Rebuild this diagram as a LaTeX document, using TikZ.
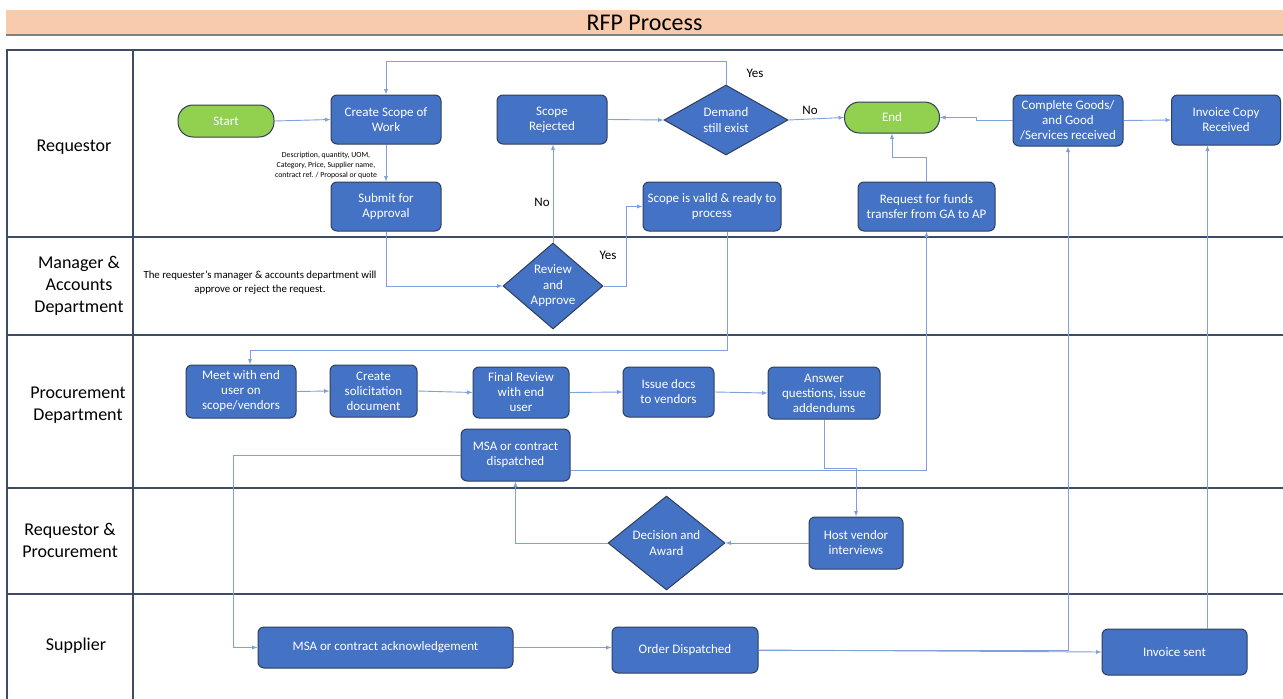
\documentclass[tikz,border=0pt]{standalone}
\usepackage{fontspec}
\setmainfont{Carlito}
\usetikzlibrary{shapes,arrows,calc}

\definecolor{boxblue}{HTML}{4472C4}
\definecolor{boxedge}{HTML}{2F3E5A}
\definecolor{termgreen}{HTML}{92D050}
\definecolor{flowblue}{HTML}{7FA0DA}
\definecolor{laneedge}{HTML}{3E4D63}
\definecolor{titlefill}{HTML}{F8CBAD}

\begin{document}
\begin{tikzpicture}[x=1pt,y=-1pt,
task/.style={
draw=boxedge,
fill=boxblue,
line width=1pt,
rounded corners=6pt,
text=white,
align=center,
inner sep=1pt,
minimum width=110pt,
minimum height=49pt,
font=\fontsize{13}{15}\selectfont},
terminal/.style={task, fill=termgreen, rounded corners=15pt},
decision/.style={
diamond,
draw=boxedge,
fill=boxblue,
line width=1pt,
text=white,
align=center,
inner sep=-5pt,
font=\fontsize{13}{15.5}\selectfont},
lane/.style={draw=laneedge, line width=1.8pt},
lanename/.style={align=center, font=\fontsize{18}{22}\selectfont},
flow/.style={draw=flowblue, line width=0.9pt, -latex},
lbl/.style={font=\fontsize{13}{15}\selectfont}]
\useasboundingbox (0,0) rectangle (1283,699);

% title and swim lanes
\node[fill=titlefill, minimum width=1277pt, minimum height=25pt, inner sep=0pt, font=\fontsize{24}{26}\selectfont] (title) at (644.5,22.5) {RFP Process};
\draw[gray, line width=1.5pt] (title.south west) -- (title.south east);
\foreach \y in {50,237,335,488,594}
  \draw[lane] (6,\y) -- (1283,\y);
\draw[lane] (7,50) -- (7,699);
\draw[lane] (133,50) -- (133,699);

\node[lanename] (lreq) at (74,147) {Requestor};
\node[lanename] (lmgr) at (79,286) {Manager \&\\Accounts\\Department};
\node[lanename] (lproc) at (78,405) {Procurement\\Department};
\node[lanename] (lrp) at (70,540) {Requestor \&\\Procurement};
\node[lanename] (lsup) at (76,646) {Supplier};

% requestor
\node[terminal, minimum width=96pt, minimum height=32pt] (start) at (226,121) {Start};
\node[task] (scope) at (386,119.5) {Create Scope of\\Work};
\node[task] (submit) at (386,206.5) {Submit for\\Approval};
\node[task] (rejected) at (552,119.5) {Scope\\Rejected};
\node[decision, aspect=2, minimum width=124pt, minimum height=70pt] (demand) at (726,120) {Demand\\still exist};
\node[terminal, minimum width=95pt, minimum height=31pt] (finish) at (892,117.5) {End};
\node[task, minimum height=51pt] (goods) at (1068,120.5) {Complete Goods/\\and Good\\/Services received};
\node[task, minimum width=109pt, minimum height=50pt] (invcopy) at (1226,120) {Invoice Copy\\Received};
\node[task, minimum width=138pt] (valid) at (712,206.5) {Scope is valid \& ready to\\process};
\node[task, minimum width=137pt] (funds) at (926.5,206.5) {Request for funds\\transfer from GA to AP};
\node[font=\fontsize{7.8}{10}\selectfont, align=center] (specnote) at (326,165) {Description, quantity, UOM,\\Category, Price, Supplier name,\\contract ref. / Proposal or quote};

% manager & accounts
\node[decision, aspect=1, minimum width=100pt, minimum height=86pt] (review) at (553,286) {Review\\and\\Approve};
\node[font=\fontsize{10.8}{14}\selectfont, align=center] (mgrnote) at (260,283) {The requester's manager \& accounts department will\\approve or reject the request.};

% procurement
\node[task, minimum height=53pt] (meet) at (241,391.5) {Meet with end\\user on\\scope/vendors};
\node[task, minimum width=87pt, minimum height=52pt] (solic) at (373.5,391) {Create\\solicitation\\document};
\node[task, minimum width=96pt, minimum height=51pt] (final) at (521,392.5) {Final Review\\with end\\user};
\node[task, minimum width=91pt, minimum height=50pt] (issue) at (668.5,392) {Issue docs\\to vendors};
\node[task, minimum width=112pt, minimum height=52pt] (answer) at (824,393) {Answer\\questions, issue\\addendums};
\node[task, minimum width=109pt, minimum height=52pt] (msadisp) at (515.5,455) {MSA or contract\\dispatched};

% requestor & procurement
\node[task, minimum width=94pt, minimum height=52pt] (host) at (856,543) {Host vendor\\interviews};
\node[decision, aspect=1, minimum width=117pt, minimum height=94pt] (award) at (666.5,543) {Decision and\\Award};

% supplier
\node[task, minimum width=255pt, minimum height=41pt] (msaack) at (385.5,647.5) {MSA or contract acknowledgement};
\node[task, minimum width=146pt, minimum height=46pt] (order) at (685,650) {Order Dispatched};
\node[task, minimum width=145pt, minimum height=46pt] (invsent) at (1174.5,652) {Invoice sent};

% connectors
\draw[flow] (start.east) -- (scope.west);
\draw[flow] (scope.south) -- (submit.north);
\draw[flow] (submit.south) |- (review.west);
\draw[flow] (review.north) -- (review.north |- rejected.south);
\draw[flow] (review.east) -- ++(23,0) |- (valid.west);
\draw[flow] (rejected.east) -- (demand.west);
\draw[flow] (demand.north) -- ++(0,-23) -| (scope.north);
\draw[flow] (demand.east) -- (finish.west);
\draw[flow] (goods.west) -- ++(-36,0) |- (finish.east);
\draw[flow] (goods.east) -- (invcopy.west);
\draw[flow] (funds.north) -- ++(0,-24) -| (finish.south);
\draw[flow] ([xshift=15pt]valid.south) -- ++(0,119) -| ([xshift=9pt]meet.north);
\draw[flow] (meet.east) -- (solic.west);
\draw[flow] (solic.east) -- (final.west);
\draw[flow] (final.east) -- (issue.west);
\draw[flow] (issue.east) -- (answer.west);
\draw[flow] (answer.south) -- ++(0,49) -| (host.north);
\draw[flow] ([yshift=-15pt]msadisp.east) -| (funds.south);
\draw[flow] (msadisp.west) -- ++(-227,0) |- (msaack.west);
\draw[flow] (host.west) -- (award.east);
\draw[flow] (award.west) -| (msadisp.south);
\draw[flow] (msaack.east) -- (msaack.east -| order.west);
\draw[flow] (order.east) -- (invsent.west);
\draw[flow] (order.east) -| (goods.south);
\draw[flow] ([xshift=33pt]invsent.north) -- ([xshift=33pt]invsent.north |- invcopy.south);

\node[lbl] (noreject) at (542,202) {No};
\node[lbl] (yesvalid) at (608,255) {Yes};
\node[lbl] (noend) at (810,110) {No};
\node[lbl] (yesloop) at (755,73) {Yes};
\end{tikzpicture}
\end{document}
